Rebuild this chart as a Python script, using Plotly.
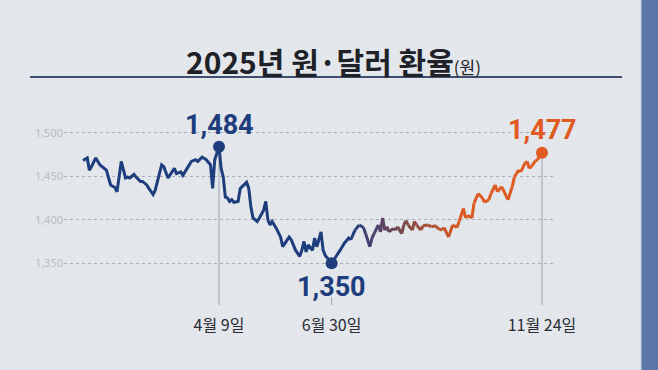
import plotly.graph_objects as go

# trading-day index (0 = Jan 2, 2025) and KRW per USD
trading_day = [0, 2, 3, 4, 6, 8, 10, 11, 13, 15, 16, 18, 20, 21, 22, 24, 25, 27, 28, 30,
               31, 33, 34, 37, 38, 40, 43, 44, 46, 47, 49, 51, 53, 54, 56, 58, 60, 61, 62, 64,
               65, 66, 67, 68, 69, 70, 71, 73, 74, 77, 78, 79, 80, 82, 83, 85, 86, 87, 88, 89,
               91, 93, 94, 96, 97, 98, 100, 102, 103, 104, 105, 106, 108, 109, 110, 111, 112, 113, 114, 117,
               119, 121, 123, 125, 126, 128, 130, 132, 133, 135, 136, 137, 139, 140, 141, 142, 143, 144, 146, 147,
               148, 150, 151, 152, 153, 155, 156, 157, 159, 160, 162, 164, 166, 167, 169, 170, 172, 174, 176, 177,
               179, 180, 181, 183, 184, 186, 188, 189, 191, 192, 194, 195, 197, 199, 200, 202, 203, 204, 205, 206,
               208, 209, 210, 211, 213, 214, 215, 216]
rate = [1468, 1471, 1457, 1461, 1471, 1463, 1459, 1457, 1440, 1437, 1432, 1467, 1448, 1449, 1448, 1452, 1449, 1444, 1444, 1440,
        1436, 1429, 1434, 1463, 1461, 1448, 1459, 1453, 1455, 1451, 1459, 1467, 1469, 1467, 1472, 1469, 1463, 1436, 1469, 1484,
        1459, 1449, 1426, 1425, 1421, 1423, 1420, 1421, 1436, 1443, 1436, 1415, 1402, 1398, 1402, 1411, 1421, 1400, 1394, 1398,
        1390, 1380, 1369, 1377, 1380, 1377, 1365, 1358, 1365, 1375, 1363, 1371, 1365, 1379, 1369, 1377, 1386, 1365, 1359, 1350,
        1357, 1365, 1373, 1379, 1377, 1388, 1394, 1391, 1384, 1369, 1379, 1384, 1394, 1386, 1402, 1388, 1392, 1386, 1390, 1388,
        1392, 1384, 1394, 1399, 1394, 1388, 1398, 1394, 1388, 1393, 1394, 1392, 1393, 1390, 1388, 1391, 1380, 1394, 1391, 1398,
        1413, 1402, 1405, 1402, 1419, 1430, 1425, 1420, 1423, 1430, 1440, 1432, 1438, 1428, 1423, 1438, 1449, 1453, 1457, 1455,
        1465, 1467, 1459, 1461, 1468, 1469, 1476, 1477]

tick_days = [64, 117, 216]
tick_labels = ["4월 9일", "6월 30일", "11월 24일"]
y_ticks = [1350, 1400, 1450, 1500]
y_tick_labels = ["1,350", "1,400", "1,450", "1,500"]

highlight_days = [64, 117, 216]
highlight_vals = [1484, 1350, 1477]
highlight_text = ["1,484", "1,350", "1,477"]

NAVY = "#1d3d7d"
ORANGE = "#e05a22"

# colour stops along the line (blue -> orange)
stops = [(0, (29, 61, 125)), (126, (29, 61, 125)), (138, (80, 64, 110)),
         (150, (120, 72, 75)), (163, (170, 82, 50)), (178, (220, 90, 36)), (216, (224, 90, 34))]


def color_at(d):
    for (d0, c0), (d1, c1) in zip(stops[:-1], stops[1:]):
        if d0 <= d <= d1:
            t = 0 if d1 == d0 else (d - d0) / (d1 - d0)
            c = [round(a + (b - a) * t) for a, b in zip(c0, c1)]
            return "rgb(%d,%d,%d)" % tuple(c)
    return "rgb(%d,%d,%d)" % stops[-1][1]


fig = go.Figure()

# blue part as one trace
split = trading_day.index(126)
fig.add_trace(go.Scatter(x=trading_day[:split + 1], y=rate[:split + 1], mode="lines",
                         line=dict(color=NAVY, width=3), hoverinfo="skip", showlegend=False))
# gradient part segment by segment
for i in range(split, len(trading_day) - 1):
    mid = (trading_day[i] + trading_day[i + 1]) / 2
    fig.add_trace(go.Scatter(x=trading_day[i:i + 2], y=rate[i:i + 2], mode="lines",
                             line=dict(color=color_at(mid), width=3), hoverinfo="skip", showlegend=False))

# guide lines
guide_from = [1484, 1311, 1472]
for d, v in zip(highlight_days, guide_from):
    fig.add_shape(type="line", xref="x", yref="y", x0=d, x1=d, y0=v, y1=1302,
                  line=dict(color="#9ca3ad", width=1), layer="below")

mcolors = [NAVY, NAVY, ORANGE]
fig.add_trace(go.Scatter(x=highlight_days, y=highlight_vals, mode="markers",
                         marker=dict(color=mcolors, size=12), hoverinfo="skip", showlegend=False))

offsets = [-22, 24, -23]
for d, v, t, c, oy in zip(highlight_days, highlight_vals, highlight_text, mcolors, offsets):
    fig.add_annotation(x=d, y=v, text="<b>" + t + "</b>", showarrow=False, yshift=-oy,
                       xanchor="center", yanchor="middle",
                       font=dict(family="Roboto", size=27, color=c))

# title
fig.add_annotation(xref="paper", yref="paper", x=(333 - 64) / 491, y=(305 - 61) / 205,
                   xanchor="center", yanchor="middle",
                   text="<b>2025년 원·달러 환율</b><span style='font-size:17px'>(원)</span>",
                   showarrow=False, font=dict(family="Noto Sans CJK KR", size=30, color="#1e2228"))

shapes_extra = [
    dict(type="line", xref="paper", yref="paper", x0=(30 - 64) / 491, x1=(622 - 64) / 491,
         y0=(305 - 77) / 205, y1=(305 - 77) / 205, line=dict(color="#3f4f6e", width=2)),
    dict(type="rect", xref="paper", yref="paper", x0=(641 - 64) / 491, x1=(659 - 64) / 491,
         y0=-0.4, y1=1.6, line=dict(width=0), fillcolor="#5d78a8"),
    dict(type="line", xref="paper", yref="paper", x0=(641 - 64) / 491, x1=(641 - 64) / 491,
         y0=-0.4, y1=1.6, line=dict(color="#c9d3e2", width=1)),
]
for s in shapes_extra:
    fig.add_shape(**s)

fig.update_layout(
    width=658, height=370,
    margin=dict(l=64, r=103, t=100, b=65),
    paper_bgcolor="#e3e6ea", plot_bgcolor="rgba(0,0,0,0)",
    xaxis=dict(range=[-8.94, 222.12], showgrid=False, zeroline=False, showline=False,
               tickvals=tick_days, ticktext=tick_labels, ticks="outside", ticklen=6,
               tickcolor="rgba(0,0,0,0)",
               tickfont=dict(family="Noto Sans CJK KR", size=16, color="#2a2d33")),
    yaxis=dict(range=[1302, 1537.6], showgrid=True, gridcolor="#aab0b8", griddash="dot",
               gridwidth=1, zeroline=False, showline=False, tickvals=y_ticks, ticktext=y_tick_labels,
               tickfont=dict(family="Noto Sans", size=11, color="#b8bdc4")),
)

fig.write_html("out.html", config={"displayModeBar": False},
               post_script="document.body.style.margin='0';document.body.style.overflow='hidden';")
